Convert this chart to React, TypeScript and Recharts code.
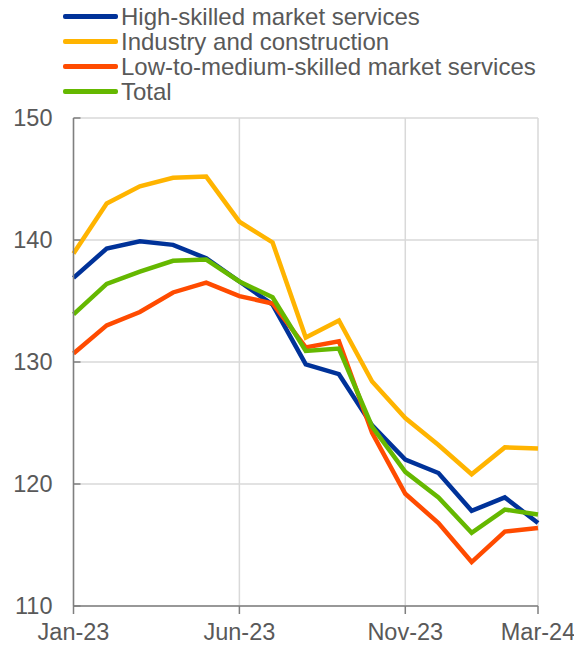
import React from 'react';
import { LineChart, Line, XAxis, YAxis, CartesianGrid } from 'recharts';

// Monthly index values
const months = [
  'Jan-23', 'Feb-23', 'Mar-23', 'Apr-23', 'May-23', 'Jun-23', 'Jul-23', 'Aug-23',
  'Sep-23', 'Oct-23', 'Nov-23', 'Dec-23', 'Jan-24', 'Feb-24', 'Mar-24',
];
const highSkilled = [136.9, 139.3, 139.9, 139.6, 138.5, 136.6, 134.7, 129.8, 129.0, 124.8, 122.0, 120.9, 117.8, 118.9, 116.8];
const industry = [138.9, 143.0, 144.4, 145.1, 145.2, 141.5, 139.8, 132.0, 133.4, 128.4, 125.4, 123.2, 120.8, 123.0, 122.9];
const lowMedium = [130.7, 133.0, 134.1, 135.7, 136.5, 135.4, 134.8, 131.2, 131.7, 124.2, 119.2, 116.8, 113.6, 116.1, 116.4];
const total = [133.9, 136.4, 137.4, 138.3, 138.4, 136.6, 135.3, 130.9, 131.1, 124.7, 121.0, 118.9, 116.0, 117.9, 117.5];

const xTicks = [0, 5, 10, 14];
const yTicks = [110, 120, 130, 140, 150];

const series = [
  { key: 'high', name: 'High-skilled market services', color: '#003299' },
  { key: 'industry', name: 'Industry and construction', color: '#FFB400' },
  { key: 'low', name: 'Low-to-medium-skilled market services', color: '#FF4B00' },
  { key: 'total', name: 'Total', color: '#65B800' },
];

const data = months.map((m, i) => ({
  idx: i,
  month: m,
  high: highSkilled[i],
  industry: industry[i],
  low: lowMedium[i],
  total: total[i],
}));

const FONT = '"Liberation Sans", Arial, sans-serif';
const TEXT = '#595959';
const AXIS = '#7f7f7f';

// y ticks: small inward tick mark plus label to the left of the axis
const YTick = (props: any) => {
  const { x, y, payload } = props;
  return (
    <g>
      <line x1={x} x2={x + 7} y1={y} y2={y} stroke={AXIS} strokeWidth={1.5} />
      <text x={x - 21} y={y} dy="0.36em" textAnchor="end" fill={TEXT} fontSize={23.5} fontFamily={FONT}>
        {payload.value}
      </text>
    </g>
  );
};

// x ticks: tick mark below the axis, label kept inside the picture
const XTick = (props: any) => {
  const { x, y, payload } = props;
  return (
    <g>
      <line x1={x} x2={x} y1={y} y2={y + 8} stroke={AXIS} strokeWidth={1.5} />
      <text x={x} y={y + 34} textAnchor="middle" fill={TEXT} fontSize={23.5} fontFamily={FONT}>
        {months[payload.value]}
      </text>
    </g>
  );
};

const LegendBox = () => (
  <div
    style={{
      position: 'absolute', left: 63, top: 4, fontFamily: FONT, fontSize: 24, color: TEXT,
      lineHeight: '25px', whiteSpace: 'nowrap',
    }}
  >
    {series.map((s) => (
      <div key={s.key} style={{ display: 'flex', alignItems: 'center', height: 25 }}>
        <span style={{ width: 55, height: 4.5, borderRadius: 2, background: s.color, marginRight: 3 }} />
        <span>{s.name}</span>
      </div>
    ))}
  </div>
);

const App: React.FC = () => {
  return (
    <div style={{ position: 'absolute', left: 0, top: 0, width: 574, height: 647 }}>
      <LineChart width={574} height={647} data={data} margin={{ top: 118, right: 36, bottom: 0, left: 0 }}>
        <CartesianGrid stroke="#d9d9d9" strokeWidth={1.5} />
        <XAxis
          dataKey="idx"
          type="number"
          domain={[0, 14]}
          ticks={xTicks}
          stroke={AXIS}
          strokeWidth={1.5}
          tickSize={0}
          tickMargin={0}
          tickLine={false}
          height={41}
          tick={<XTick />}
          interval={0}
        />
        <YAxis
          domain={[110, 150]}
          ticks={yTicks}
          stroke={AXIS}
          strokeWidth={1.5}
          tickSize={0}
          tickMargin={0}
          tickLine={false}
          width={73.5}
          tick={<YTick />}
          interval={0}
        />
        {series.map((s) => (
          <Line
            key={s.key}
            dataKey={s.key}
            name={s.name}
            stroke={s.color}
            strokeWidth={4.5}
            dot={false}
            type="linear"
            isAnimationActive={false}
          />
        ))}
      </LineChart>
      <LegendBox />
    </div>
  );
};

export default App;
